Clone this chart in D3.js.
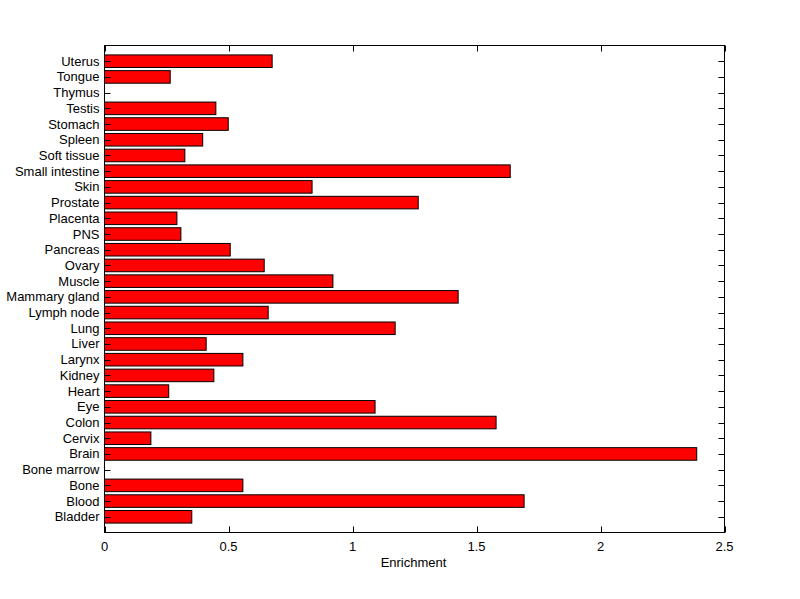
<!DOCTYPE html>
<html><head><meta charset="utf-8">
<script src="https://cdn.jsdelivr.net/npm/d3@7"></script>
<style>body{margin:0;background:#fff}text{font-family:Arial,"Liberation Sans",sans-serif}</style>
</head><body>
<svg id="c" width="800" height="599"></svg>
<script>
const categories = ["Bladder","Blood","Bone","Bone marrow","Brain","Cervix","Colon","Eye","Heart","Kidney","Larynx","Liver","Lung","Lymph node","Mammary gland","Muscle","Ovary","Pancreas","PNS","Placenta","Prostate","Skin","Small intestine","Soft tissue","Spleen","Stomach","Testis","Thymus","Tongue","Uterus"];
const values = [0.352,1.692,0.558,0,2.388,0.187,1.579,1.091,0.259,0.441,0.558,0.410,1.172,0.660,1.426,0.921,0.644,0.507,0.308,0.292,1.265,0.837,1.636,0.324,0.396,0.499,0.449,0,0.265,0.676];
const xTicks = [0,0.5,1,1.5,2,2.5];
const xLabel = "Enrichment";

const svg = d3.select("#c");
const L=104.5,R=724.5,T=45.5,B=532.5;
const x = d3.scaleLinear().domain([0,2.5]).range([L,R]);
const y = d3.scaleLinear().domain([0,categories.length+1]).range([B,T]);
const bw = (y(0)-y(0.8));

svg.append("rect").attr("x",L).attr("y",T).attr("width",R-L).attr("height",B-T).attr("fill","#fff");

svg.append("g").selectAll("rect").data(values).join("rect")
  .attr("x",x(0)).attr("y",(d,i)=>y(i+1)-bw/2)
  .attr("width",d=>x(d)-x(0)).attr("height",bw)
  .attr("fill",d=>d>0?"#ff0000":"none").attr("stroke","#000").attr("stroke-width",1);

const tl=6;
const g = svg.append("g").attr("stroke","#000").attr("stroke-width",1);
xTicks.forEach(t=>{
  const xx=Math.round(x(t))+0.5;
  g.append("line").attr("x1",xx).attr("x2",xx).attr("y1",B).attr("y2",B-tl);
  g.append("line").attr("x1",xx).attr("x2",xx).attr("y1",T).attr("y2",T+tl);
});
categories.forEach((c,i)=>{
  const yy=Math.round(y(i+1))+0.5;
  g.append("line").attr("x1",L).attr("x2",L+tl).attr("y1",yy).attr("y2",yy);
  g.append("line").attr("x1",R).attr("x2",R-tl).attr("y1",yy).attr("y2",yy);
});
svg.append("rect").attr("x",L).attr("y",T).attr("width",R-L).attr("height",B-T)
  .attr("fill","none").attr("stroke","#000").attr("stroke-width",1);

svg.append("g").selectAll("text").data(xTicks).join("text")
  .attr("x",d=>x(d)).attr("y",551).attr("text-anchor","middle")
  .attr("font-size",13).text(d=>d);
svg.append("g").selectAll("text").data(categories).join("text")
  .attr("x",99.5).attr("y",(d,i)=>y(i+1)+4.5).attr("text-anchor","end")
  .attr("font-size",13).text(d=>d);
svg.append("text").attr("x",(L+R)/2-1).attr("y",567).attr("text-anchor","middle")
  .attr("font-size",13).text(xLabel);
</script>
</body></html>
